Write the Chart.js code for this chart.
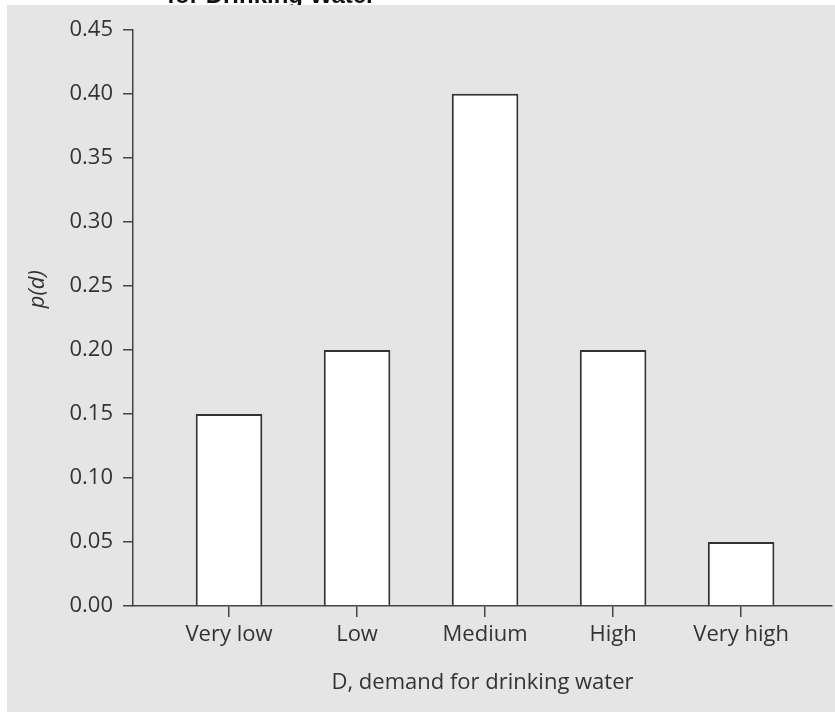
<!DOCTYPE html>
<html>
<head>
<meta charset="utf-8">
<script src="https://cdn.jsdelivr.net/npm/chart.js@4.4.1/dist/chart.umd.min.js"></script>
<style>
  html, body { margin: 0; padding: 0; background: #ffffff; }
  canvas { display: block; }
</style>
</head>
<body>
<canvas id="chart" width="835" height="712"></canvas>
<script>
const categories = ['Very low', 'Low', 'Medium', 'High', 'Very high'];
const probabilities = [0.15, 0.20, 0.40, 0.20, 0.05];
const yTickValues = [0.00, 0.05, 0.10, 0.15, 0.20, 0.25, 0.30, 0.35, 0.40, 0.45];
const chartTitle = 'for Drinking Water';
const xAxisTitle = 'D, demand for drinking water';
const yAxisTitle = 'p(d)';

const AXIS = '#444444';
const TEXT = '#333333';
const PANEL = '#e5e5e5';

Chart.defaults.font.family = '"Open Sans", sans-serif';
Chart.defaults.color = TEXT;

const panelPlugin = {
  id: 'panel',
  afterLayout(chart) {
    if (chart.titleBlock) {
      chart.titleBlock.left = 167;
    }
  },
  beforeDatasetsDraw(chart) {
    const ctx = chart.ctx;
    ctx.save();
    ctx.fillStyle = PANEL;
    ctx.fillRect(7, 5, chart.width - 7, chart.height - 5);
    ctx.restore();
  }
};

const points = categories.map((c, i) => ({ x: i, y: probabilities[i] }));

new Chart(document.getElementById('chart'), {
  type: 'bar',
  data: {
    datasets: [{
      label: 'p(d)',
      data: points,
      backgroundColor: '#ffffff',
      borderColor: '#333333',
      borderWidth: 2,
      borderSkipped: 'start',
      categoryPercentage: 1.0,
      barPercentage: 0.52
    }]
  },
  options: {
    responsive: false,
    animation: false,
    layout: { padding: { left: 0, right: 3, top: 0, bottom: 0 } },
    plugins: {
      legend: { display: false },
      tooltip: { enabled: false },
      title: {
        display: true,
        text: chartTitle,
        align: 'start',
        color: '#111111',
        font: { family: '"Liberation Sans", Arial, sans-serif', weight: 'bold', size: 24 },
        padding: { top: -18, bottom: 19 }
      }
    },
    scales: {
      x: {
        type: 'linear',
        min: -0.75,
        max: 4.71,
        offset: false,
        afterBuildTicks: (scale) => { scale.ticks = categories.map((c, i) => ({ value: i })); },
        afterFit: (scale) => { scale.height = 106; },
        ticks: {
          z: 1,
          autoSkip: false,
          maxRotation: 0,
          padding: 5,
          color: TEXT,
          font: { size: 22 },
          callback: (v) => categories[v]
        },
        grid: { z: 1, offset: false, drawOnChartArea: false, drawTicks: true, tickLength: 11, color: AXIS, lineWidth: 1.5 },
        border: { z: 1, display: true, color: AXIS, width: 1.5 },
        title: {
          display: true,
          text: xAxisTitle,
          color: TEXT,
          font: { size: 22 },
          padding: { top: 0, bottom: 16 }
        }
      },
      y: {
        type: 'linear',
        min: 0,
        max: 0.45,
        afterBuildTicks: (scale) => { scale.ticks = yTickValues.map(v => ({ value: v })); },
        afterFit: (scale) => { scale.width = 133; },
        ticks: {
          z: 1,
          padding: 10,
          color: TEXT,
          font: { size: 22 },
          callback: (v) => Number(v).toFixed(2)
        },
        grid: { z: 1, drawOnChartArea: false, drawTicks: true, tickLength: 10, color: AXIS, lineWidth: 1.5 },
        border: { z: 1, display: true, color: AXIS, width: 1.5 },
        title: {
          display: true,
          text: '          ' + yAxisTitle,
          color: TEXT,
          font: { size: 22, style: 'italic' },
          padding: { top: 25, bottom: 0 }
        }
      }
    }
  },
  plugins: [panelPlugin]
});
</script>
</body>
</html>
